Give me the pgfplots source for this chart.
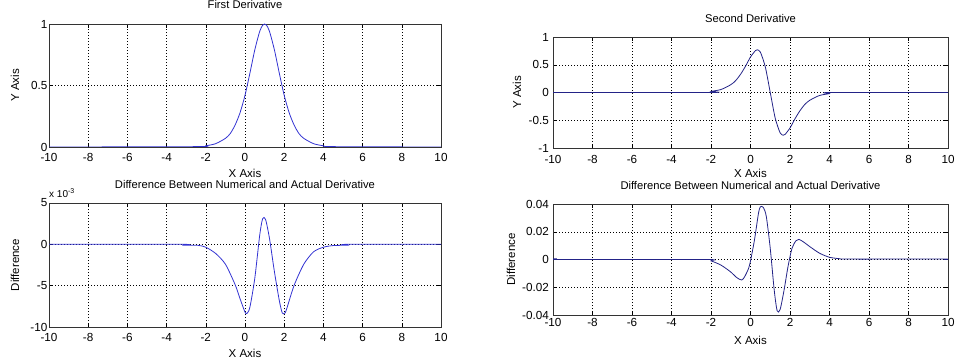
\documentclass[border=0pt]{standalone}
\usepackage{pgfplots}
\pgfplotsset{compat=1.18}
\usepackage{fontspec}
\setmainfont{Liberation Sans}
\definecolor{lblue}{RGB}{50,50,210}
\definecolor{rblue}{RGB}{35,35,135}
\pgfplotsset{
  mstyle/.style={
    scale only axis,
    anchor=south west,
    xmin=-10, xmax=10,
    xtick={-10,-8,-6,-4,-2,0,2,4,6,8,10},
    xticklabels={-10,-8,-6,-4,-2,0,2,4,6,8,10},
    scaled y ticks=false,
    tick align=inside,
    major tick length=4pt,
    tick style={black, line width=0.5pt},
    grid=major,
    grid style={black, line width=0.5pt, dash pattern=on 1pt off 2pt},
    axis line style={black!80, line width=0.8pt},
    tick label style={font=\fontsize{11.7}{14}\selectfont},
    yticklabel style={inner sep=1.5pt},
    xticklabel style={inner sep=6.3pt},
    label style={font=\fontsize{11.5}{13}\selectfont},
    title style={font=\fontsize{11.2}{13}\selectfont, anchor=base},
    xlabel={X Axis},
  }
}
\begin{document}
\begin{tikzpicture}[x=1pt,y=1pt]
\useasboundingbox (0,0) rectangle (955,362);
% top-left
\begin{axis}[mstyle, at={(49pt,215pt)}, width=392pt, height=123pt,
  ymin=0, ymax=1, ytick={0,0.5,1}, yticklabels={0,0.5,1},
  title={First Derivative}, title style={at={(axis description cs:0.5,1.081)}},
  ylabel={Y Axis}, ylabel style={at={(axis description cs:-0.087,0.5)}, anchor=center},
  xlabel style={at={(axis description cs:0.5,-0.244)}, anchor=base}]
\addplot[lblue, line width=0.8pt, smooth, tension=0.45] coordinates {
(-10,0) (-2.5,0.003) (-2,0.01) (-1.5,0.027) (-1,0.07) (-0.75,0.11) (-0.5,0.18) (-0.25,0.28) (0,0.42) (0.25,0.60) (0.5,0.79) (0.75,0.94) (0.9,0.99) (1,1.0) (1.1,0.99) (1.25,0.94) (1.5,0.79) (1.75,0.60) (2,0.42) (2.25,0.28) (2.5,0.18) (2.75,0.11) (3,0.07) (3.5,0.027) (4,0.01) (4.5,0.003) (10,0)};
\end{axis}
% bottom-left
\begin{axis}[mstyle, at={(49pt,35pt)}, width=392pt, height=124pt,
  ymin=-10, ymax=5, ytick={-10,-5,0,5}, yticklabels={-10,-5,0,5},
  title={Difference Between Numerical and Actual Derivative}, title style={at={(axis description cs:0.5,1.065)}},
  ylabel={Difference}, ylabel style={at={(axis description cs:-0.087,0.5)}, anchor=center},
  xlabel style={at={(axis description cs:0.5,-0.242)}, anchor=base},
  after end axis/.code={\node[anchor=base west, font=\fontsize{10}{12}\selectfont, inner sep=0pt] at (axis description cs:0,1.048) {x 10\textsuperscript{-3}};}]
\addplot[lblue, line width=0.8pt, smooth, tension=0.45] coordinates {
(-10,0) (-3.2,0) (-3.15,-0.1) (-2.4,-0.12) (-2,-0.35) (-1.5,-1.1) (-1,-2.4) (-0.5,-4.9) (-0.25,-6.6) (0,-8.2) (0.1,-8.35) (0.25,-7.6) (0.5,-4.1) (0.75,1.1) (0.9,3.1) (1.05,3.0) (1.25,0.7) (1.5,-3.3) (1.75,-6.8) (1.9,-8.3) (2.0,-8.35) (2.1,-8.0) (2.5,-5.0) (3,-2.4) (3.5,-0.9) (4,-0.35) (4.5,-0.15) (5.2,-0.1) (5.25,0) (10,0)};
\end{axis}
% top-right
\begin{axis}[mstyle, at={(553pt,214pt)}, width=395pt, height=111pt,
  ymin=-1, ymax=1, ytick={-1,-0.5,0,0.5,1}, yticklabels={-1,-0.5,0,0.5,1},
  title={Second Derivative}, title style={at={(axis description cs:0.5,1.081)}},
  ylabel={Y Axis}, ylabel style={at={(axis description cs:-0.091,0.5)}, anchor=center},
  xlabel style={at={(axis description cs:0.5,-0.27)}, anchor=base},
  yticklabel style={inner sep=4pt}, xticklabel style={inner sep=7.5pt}]
\addplot[rblue, line width=0.8pt, smooth, tension=0.45] coordinates {
(-10,0) (-2.05,0) (-2,0.02) (-1.5,0.053) (-1,0.14) (-0.75,0.215) (-0.5,0.33) (-0.25,0.475) (0,0.64) (0.25,0.755) (0.34,0.77) (0.5,0.727) (0.75,0.46) (1,0) (1.25,-0.46) (1.5,-0.727) (1.66,-0.77) (1.75,-0.755) (2,-0.64) (2.25,-0.475) (2.5,-0.33) (2.75,-0.215) (3,-0.14) (3.5,-0.053) (4,-0.02) (4.05,0) (10,0)};
\end{axis}
% bottom-right
\begin{axis}[mstyle, at={(553pt,47pt)}, width=395pt, height=111pt,
  ymin=-0.04, ymax=0.04, ytick={-0.04,-0.02,0,0.02,0.04}, yticklabels={-0.04,-0.02,0,0.02,0.04},
  title={Difference Between Numerical and Actual Derivative}, title style={at={(axis description cs:0.5,1.081)}},
  ylabel={Difference}, ylabel style={at={(axis description cs:-0.106,0.5)}, anchor=center},
  xlabel style={at={(axis description cs:0.5,-0.27)}, anchor=base},
  yticklabel style={inner sep=4pt}, xticklabel style={inner sep=3pt}]
\addplot[rblue, line width=0.8pt, smooth, tension=0.45] coordinates {
(-10,0.0005) (-9.8,0.0005) (-9.75,0) (-2.3,0) (-2,-0.001) (-1.5,-0.004) (-1,-0.009) (-0.7,-0.013) (-0.45,-0.0148) (-0.3,-0.0125) (-0.1,-0.0065) (0,-0.001) (0.2,0.014) (0.4,0.033) (0.5,0.038) (0.65,0.0375) (0.8,0.031) (1.0,0.008) (1.2,-0.022) (1.35,-0.037) (1.5,-0.036) (1.7,-0.022) (1.9,-0.005) (2.1,0.008) (2.3,0.0135) (2.45,0.0145) (2.7,0.0125) (3,0.0093) (3.5,0.0045) (4,0.0016) (4.5,0.0006) (5,0.0003) (9.75,0.0003) (9.8,0) (10,0)};
\end{axis}
\end{tikzpicture}
\end{document}
